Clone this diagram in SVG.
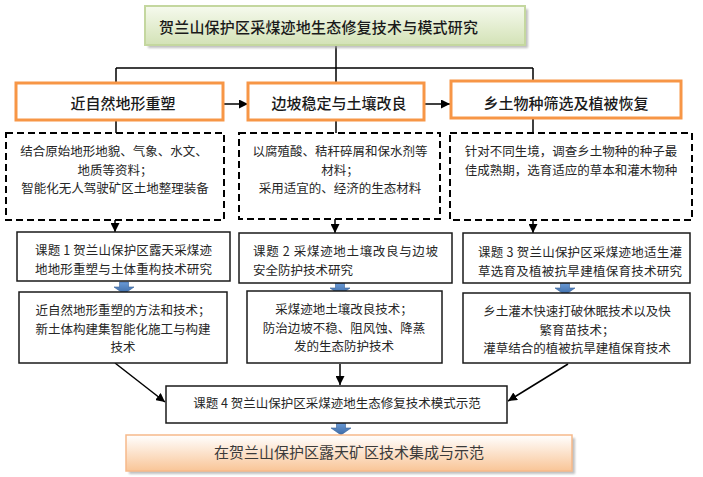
<svg xmlns="http://www.w3.org/2000/svg" width="703" height="477" viewBox="0 0 703 477">
<defs>
<linearGradient id="gGreen" x1="0" y1="0" x2="0" y2="1"><stop offset="0" stop-color="#F6FAEE"/><stop offset="1" stop-color="#D3E2B6"/></linearGradient>
<linearGradient id="gPeach" x1="0" y1="0" x2="0" y2="1"><stop offset="0" stop-color="#FFFFFF"/><stop offset="1" stop-color="#F9C597"/></linearGradient>
<linearGradient id="gBlue" x1="0" y1="0" x2="0" y2="1"><stop offset="0" stop-color="#6A9AD6"/><stop offset="1" stop-color="#3B6AA6"/></linearGradient>
<marker id="ah" markerUnits="userSpaceOnUse" markerWidth="9" markerHeight="9" refX="9" refY="4.5" orient="auto"><path d="M0,0 L9,4.5 L0,9 Z" fill="#000"/></marker>
<path id="blk" d="M-4.5,0 H4.5 V5 H10 L0,12 L-10,5 H-4.5 Z" fill="url(#gBlue)" stroke="#355F96" stroke-width="0.6"/>
<filter id="sh" x="-5%" y="-20%" width="115%" height="150%"><feGaussianBlur stdDeviation="1"/></filter>
</defs>
<style>
.t{font-family:"Noto Sans CJK SC","Liberation Sans",sans-serif;fill:#262626;font-size:12.5px}
.h{font-family:"Noto Sans CJK SC","Liberation Sans",sans-serif;fill:#1a1a1a;font-size:15px;font-weight:500}
.c{text-anchor:middle}
.ln{fill:none;stroke:#000;stroke-width:1.5}
.or{fill:#fff;stroke:#F79646;stroke-width:3}
.ds{fill:#fff;stroke:#000;stroke-width:2;stroke-dasharray:7,4}
.bx{fill:#fff;stroke:#1a1a1a;stroke-width:1.5}
</style>
<rect width="703" height="477" fill="#fff"/>

<g id="connectors">
<path class="ln" d="M336,45 V83 M116,68 H533 M116,68 V83 M533,68 V81"/>
<path class="ln" d="M116,120 V133 M336,120 V133 M533,118 V133"/>
<path class="ln" d="M223,104 H248" marker-end="url(#ah)"/>
<path class="ln" d="M424,104 H450" marker-end="url(#ah)"/>
<path class="ln" d="M115,220 V232" marker-end="url(#ah)"/>
<path class="ln" d="M335,219 V233" marker-end="url(#ah)"/>
<path class="ln" d="M533,220 V233" marker-end="url(#ah)"/>
<path class="ln" d="M115,363 L165,402" marker-end="url(#ah)"/>
<path class="ln" d="M340,364 V385" marker-end="url(#ah)"/>
<path class="ln" d="M568,364 L508,401" marker-end="url(#ah)"/>
<use href="#blk" x="124" y="282"/>
<use href="#blk" x="340" y="283"/>
<use href="#blk" x="565" y="283"/>
<use href="#blk" x="341" y="423"/>
</g>

<g id="title">
<rect x="148" y="9" width="380" height="39" fill="#A6A6A6" opacity="0.7" filter="url(#sh)"/>
<rect x="145" y="6" width="380" height="39" fill="url(#gGreen)" stroke="#C4D79F" stroke-width="2"/>
<text class="h" x="159" y="33" textLength="319" lengthAdjust="spacing">贺兰山保护区采煤迹地生态修复技术与模式研究</text>
</g>

<g id="head1">
<rect class="or" x="16" y="83" width="207" height="37"/>
<text class="h c" x="123" y="109">近自然地形重塑</text>
</g>
<g id="head2">
<rect class="or" x="248" y="83" width="176" height="37"/>
<text class="h c" x="339" y="109">边坡稳定与土壤改良</text>
</g>
<g id="head3">
<rect class="or" x="451" y="81" width="230" height="37"/>
<text class="h c" x="566" y="109">乡土物种筛选及植被恢复</text>
</g>

<g id="dash1">
<rect class="ds" x="6" y="133" width="218" height="87"/>
<text class="t c" x="114" y="156">结合原始地形地貌、气象、水文、</text>
<text class="t c" x="115" y="174.5">地质等资料；</text>
<text class="t c" x="115" y="193">智能化无人驾驶矿区土地整理装备</text>
</g>
<g id="dash2">
<rect class="ds" x="239" y="133" width="201" height="86"/>
<text class="t c" x="340" y="156">以腐殖酸、秸秆碎屑和保水剂等</text>
<text class="t c" x="340" y="174.5">材料；</text>
<text class="t c" x="340" y="193">采用适宜的、经济的生态材料</text>
</g>
<g id="dash3">
<rect class="ds" x="450" y="133" width="242" height="87"/>
<text class="t c" x="571" y="156">针对不同生境，调查乡土物种的种子最</text>
<text class="t c" x="571" y="175">佳成熟期，选育适应的草本和灌木物种</text>
</g>

<g id="topic1">
<rect class="bx" x="17" y="232" width="213" height="49"/>
<text class="t" x="35" y="255" textLength="177" lengthAdjust="spacing">课题 1 贺兰山保护区露天采煤迹</text>
<text class="t" x="35" y="274" textLength="177" lengthAdjust="spacing">地地形重塑与土体重构技术研究</text>
</g>
<g id="topic2">
<rect class="bx" x="239" y="233" width="213" height="50"/>
<text class="t" x="253" y="256" textLength="185" lengthAdjust="spacing">课题  2  采煤迹地土壤改良与边坡</text>
<text class="t" x="253" y="275">安全防护技术研究</text>
</g>
<g id="topic3">
<rect class="bx" x="463" y="233" width="227" height="50"/>
<text class="t" x="478" y="257" textLength="204" lengthAdjust="spacing">课题 3 贺兰山保护区采煤迹地适生灌</text>
<text class="t" x="478" y="276" textLength="204" lengthAdjust="spacing">草选育及植被抗旱建植保育技术研究</text>
</g>

<g id="tech1">
<rect class="bx" x="19" y="292" width="208" height="71"/>
<text class="t c" x="123" y="315">近自然地形重塑的方法和技术；</text>
<text class="t c" x="123" y="333.5">新土体构建集智能化施工与构建</text>
<text class="t c" x="123" y="352">技术</text>
</g>
<g id="tech2">
<rect class="bx" x="247" y="291" width="195" height="72"/>
<text class="t c" x="344" y="314">采煤迹地土壤改良技术；</text>
<text class="t c" x="344" y="332.5">防治边坡不稳、阻风蚀、降蒸</text>
<text class="t c" x="344" y="351">发的生态防护技术</text>
</g>
<g id="tech3">
<rect class="bx" x="463" y="293" width="227" height="70"/>
<text class="t c" x="577" y="316">乡土灌木快速打破休眠技术以及快</text>
<text class="t c" x="577" y="334.5">繁育苗技术；</text>
<text class="t c" x="577" y="353">灌草结合的植被抗旱建植保育技术</text>
</g>

<g id="topic4">
<rect class="bx" x="166" y="386" width="341" height="37"/>
<text class="t c" x="337" y="408">课题 4 贺兰山保护区采煤迹地生态修复技术模式示范</text>
</g>

<g id="final">
<rect x="129" y="438" width="446" height="36" fill="#A6A6A6" opacity="0.7" filter="url(#sh)"/>
<rect x="126" y="435" width="446" height="36" fill="url(#gPeach)" stroke="#F6B98A" stroke-width="1.5"/>
<text class="h c" x="349" y="458" style="fill:#3a3a3a;font-weight:400">在贺兰山保护区露天矿区技术集成与示范</text>
</g>
</svg>
